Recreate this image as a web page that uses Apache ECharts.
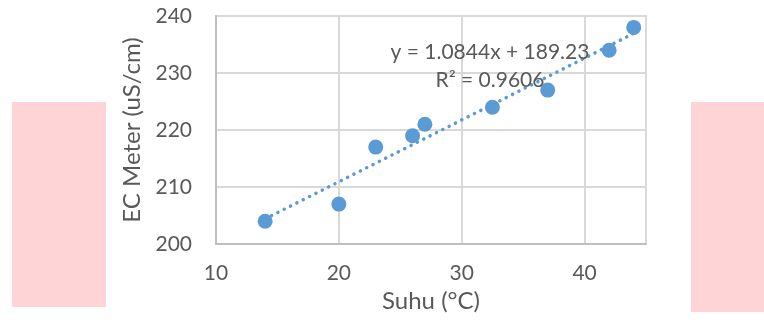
<!DOCTYPE html>
<html>
<head>
<meta charset="utf-8">
<script src="https://cdn.jsdelivr.net/npm/echarts@6/dist/echarts.min.js"></script>
<style>
  html, body { margin: 0; padding: 0; background: #fff; }
  #chart { width: 764px; height: 320px; }
</style>
</head>
<body>
<div id="chart"></div>
<script>
// suhu (°C) vs EC meter readings
var suhu = [14, 20, 23, 26, 27, 32.5, 37, 42, 44];
var ecMeter = [204, 207, 217, 219, 221, 224, 227, 234, 238];

// linear trendline as printed on the chart
var trendSlope = 1.0844;
var trendIntercept = 189.23;
var trendR2 = 0.9606;
var trendRange = [14, 44];

var xTicks = [10, 20, 30, 40];
var yTicks = [200, 210, 220, 230, 240];

var textColor = '#595959';
var blue = '#5b9bd5';
var font = 'Lato, "Open Sans", sans-serif';

var points = suhu.map(function (x, i) { return [x, ecMeter[i]]; });
var trend = trendRange.map(function (x) { return [x, trendSlope * x + trendIntercept]; });

var chart = echarts.init(document.getElementById('chart'), null, { renderer: 'canvas' });

var option = {
  backgroundColor: '#fff',
  animation: false,
  textStyle: { fontFamily: font },
  graphic: [
    { type: 'rect', z: -10, shape: { x: 12, y: 102, width: 94, height: 205 }, style: { fill: '#fed4d7' } },
    { type: 'rect', z: -10, shape: { x: 691, y: 102, width: 73, height: 210 }, style: { fill: '#fed4d7' } }
  ],
  grid: {
    left: 216, right: 118, top: 16, bottom: 76,
    show: true,
    backgroundColor: '#fff',
    borderColor: '#c5d5ea',
    borderWidth: 2
  },
  xAxis: {
    type: 'value',
    min: 10, max: 45, interval: 10,
    name: 'Suhu (°C)',
    nameLocation: 'middle',
    nameGap: 44,
    nameTextStyle: { color: textColor, fontSize: 24, fontFamily: font },
    axisLine: { show: true, onZero: false, lineStyle: { color: '#bfbfbf', width: 2 } },
    axisTick: { show: false },
    axisLabel: {
      color: textColor, fontSize: 21, fontFamily: font, margin: 19,
      formatter: function (v) { return xTicks.indexOf(v) >= 0 ? String(v) : ''; }
    },
    splitLine: { show: true, lineStyle: { color: '#d9d9d9', width: 2 } }
  },
  yAxis: {
    type: 'value',
    min: 200, max: 240, interval: 10,
    name: 'EC Meter (uS/cm)',
    nameLocation: 'middle',
    nameGap: 67,
    nameTextStyle: { color: textColor, fontSize: 24, fontFamily: font },
    axisLine: { show: true, onZero: false, lineStyle: { color: '#bfbfbf', width: 2 } },
    axisTick: { show: false },
    axisLabel: {
      color: textColor, fontSize: 21, fontFamily: font, margin: 24,
      formatter: function (v) { return yTicks.indexOf(v) >= 0 ? String(v) : ''; }
    },
    splitLine: { show: true, lineStyle: { color: '#d9d9d9', width: 2 } }
  },
  series: [
    {
      type: 'line',
      data: trend,
      symbol: 'none',
      z: 2,
      lineStyle: { color: blue, width: 3.5, type: [0.1, 7], cap: 'round' },
      markPoint: {
        symbol: 'circle',
        symbolSize: 1,
        itemStyle: { color: 'rgba(0,0,0,0)' },
        data: [{ coord: [32.3, 231.2] }],
        label: {
          show: true,
          position: 'inside',
          align: 'center',
          verticalAlign: 'middle',
          color: textColor,
          fontSize: 21,
          fontFamily: font,
          lineHeight: 28,
          formatter: 'y = ' + trendSlope + 'x + ' + trendIntercept + '\nR² = ' + trendR2
        }
      }
    },
    {
      type: 'scatter',
      data: points,
      symbol: 'circle',
      symbolSize: 15,
      z: 3,
      itemStyle: { color: blue, opacity: 1 }
    }
  ]
};

chart.setOption(option);
</script>
</body>
</html>
